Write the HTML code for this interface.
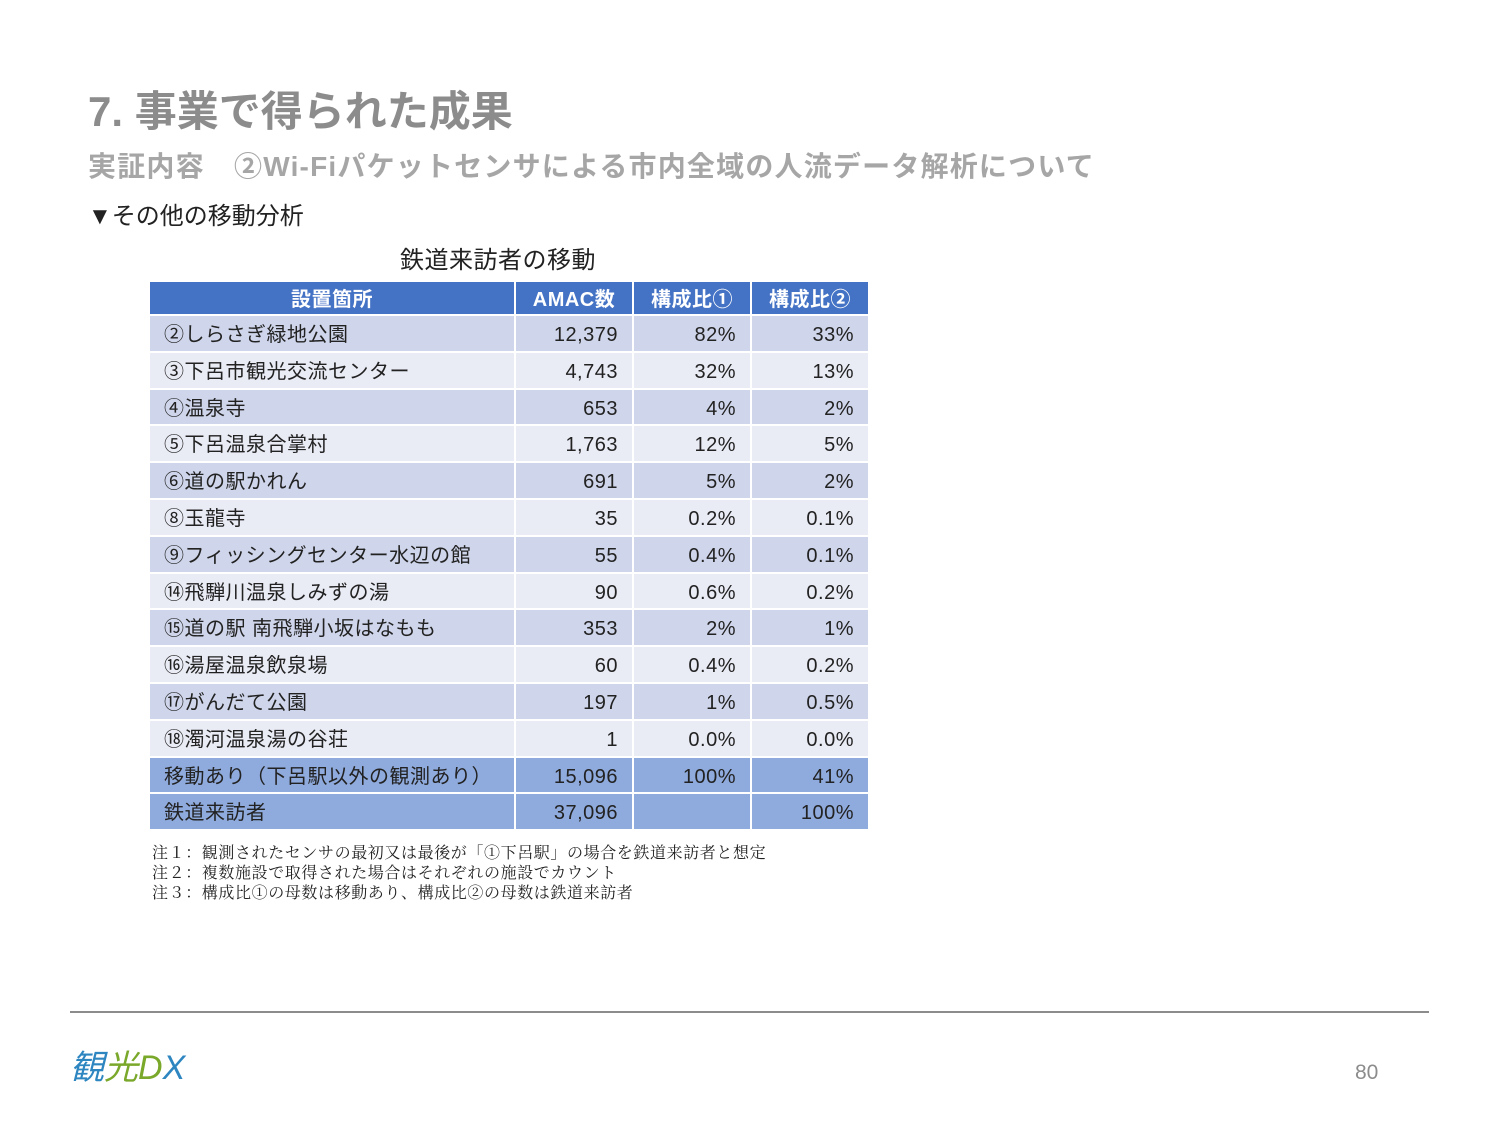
<!DOCTYPE html>
<html><head><meta charset="utf-8">
<style>
body{margin:0;width:1500px;height:1125px;background:#fff;position:relative;overflow:hidden;font-family:"Liberation Sans","Noto Sans CJK JP",sans-serif;}
.abs{position:absolute;white-space:nowrap;}
.cell{position:absolute;box-sizing:border-box;font-size:20px;color:#222;padding:4px 14px 0 14px;white-space:nowrap;letter-spacing:0.5px;}
</style></head><body>
<div class="abs" style="left:88px;top:78px;font-size:42px;font-weight:bold;color:#8c8c8c;">7. 事業で得られた成果</div>
<div class="abs" style="left:88px;top:145px;font-size:28px;font-weight:bold;color:#a6a6a6;letter-spacing:1.2px;">実証内容　②Wi-Fiパケットセンサによる市内全域の人流データ解析について</div>
<div class="abs" style="left:88px;top:196px;font-size:24px;color:#222;">▼その他の移動分析</div>
<div class="abs" style="left:400px;top:240px;font-size:24px;color:#222;letter-spacing:0.5px;">鉄道来訪者の移動</div>
<div id="tbl"></div>
<div class="abs" style="left:152px;top:844px;font-size:16px;line-height:20px;color:#222;letter-spacing:0.6px;font-family:'Liberation Serif','Noto Serif CJK SC',serif;">注１：観測されたセンサの最初又は最後が「①下呂駅」の場合を鉄道来訪者と想定<br>注２：複数施設で取得された場合はそれぞれの施設でカウント<br>注３：構成比①の母数は移動あり、構成比②の母数は鉄道来訪者</div>
<div class="abs" style="left:70px;top:1011px;width:1359px;height:2px;background:#8c8c8c;"></div>
<div class="abs" style="left:70px;top:1040px;font-size:34px;font-style:italic;"><span style="color:#2e86c1">観</span><span style="color:#7aa82a">光</span><span style="color:#7aa82a">D</span><span style="color:#2e86c1">X</span></div>
<div class="abs" style="left:1355px;top:1061px;font-size:21px;color:#8c8c8c;">80</div>
<script>
const headers=["設置箇所","AMAC数","構成比①","構成比②"];
const places=["②しらさぎ緑地公園","③下呂市観光交流センター","④温泉寺","⑤下呂温泉合掌村","⑥道の駅かれん","⑧玉龍寺","⑨フィッシングセンター水辺の館","⑭飛騨川温泉しみずの湯","⑮道の駅 南飛騨小坂はなもも","⑯湯屋温泉飲泉場","⑰がんだて公園","⑱濁河温泉湯の谷荘","移動あり（下呂駅以外の観測あり）","鉄道来訪者"];
const amac=["12,379","4,743","653","1,763","691","35","55","90","353","60","197","1","15,096","37,096"];
const ratio1=["82%","32%","4%","12%","5%","0.2%","0.4%","0.6%","2%","0.4%","1%","0.0%","100%",""];
const ratio2=["33%","13%","2%","5%","2%","0.1%","0.1%","0.2%","1%","0.2%","0.5%","0.0%","41%","100%"];
const colX=[150,516,634,752], colW=[364,116,116,116];
const t=document.getElementById('tbl');
function cell(x,y,w,h,bg,txt,align,color,bold,name){
 const d=document.createElement('div');
 d.className='cell';
 
 
 d.style.cssText=`left:${x}px;top:${y}px;width:${w}px;height:${h}px;background:${bg};text-align:${align};color:${color};font-weight:${bold?'bold':'normal'};line-height:${h-4}px;`;
 d.textContent=txt;t.appendChild(d);
}
headers.forEach((h,i)=>cell(colX[i],282,colW[i],32,'#4472c4',h,'center','#fff',true,'header-cell'));
const rowH=36.8;
places.forEach((p,r)=>{
 const y=316+r*rowH;
 const bg=r>=12?'#8faadc':(r%2==0?'#cfd5ea':'#e9ebf5');
 const vals=[p,amac[r],ratio1[r],ratio2[r]];
 vals.forEach((v,i)=>cell(colX[i],y,colW[i],rowH-2,bg,v,i==0?'left':'right','#222',false,i==0?'place-cell':'value-cell'));
});
</script>
</body></html>
